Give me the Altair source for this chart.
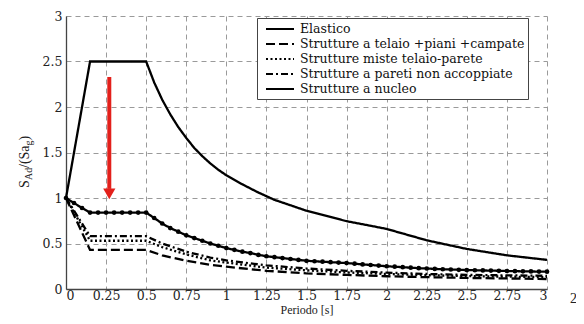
import altair as alt
import pandas as pd

FONT = "Liberation Serif"
FONT_W = "DejaVu Serif"

series_names = [
    "Elastico",
    "Strutture a telaio +piani +campate",
    "Strutture miste telaio-parete",
    "Strutture a pareti non accoppiate",
    "Strutture a nucleo",
]

# Elastic spectrum
T_el = [0, 0.15, 0.5, 0.55, 0.6, 0.65, 0.7, 0.75, 0.8, 0.85, 0.9, 0.95, 1.0, 1.1, 1.2, 1.3,
        1.4, 1.5, 1.75, 1.9, 2.0, 2.1, 2.25, 2.5, 2.75, 3.0]
S_el = [1.0, 2.5, 2.5, 2.27, 2.08, 1.92, 1.78, 1.66, 1.55, 1.46, 1.38, 1.31, 1.25, 1.15, 1.06, 0.98,
        0.92, 0.86, 0.745, 0.695, 0.66, 0.61, 0.535, 0.44, 0.37, 0.32]

# Reduced spectra (dashed / dotted / dash-dot)
T_red = [0, 0.15, 0.5, 0.6, 0.75, 0.9, 1.0, 1.25, 1.5, 1.75, 2.0, 2.25, 2.5, 2.75, 3.0]
S_telaio = [1.0, 0.43, 0.43, 0.37, 0.31, 0.265, 0.245, 0.2, 0.172, 0.155, 0.14, 0.13, 0.122, 0.116, 0.11]
S_miste = [1.0, 0.53, 0.53, 0.46, 0.38, 0.315, 0.29, 0.235, 0.205, 0.182, 0.165, 0.152, 0.142, 0.136, 0.13]
S_pareti = [1.0, 0.58, 0.58, 0.5, 0.41, 0.345, 0.315, 0.26, 0.225, 0.2, 0.18, 0.165, 0.155, 0.15, 0.145]

# Core structures (line with markers)
T_nuc = [0.0, 0.05, 0.1, 0.15, 0.2, 0.25, 0.3, 0.35, 0.4, 0.45, 0.5, 0.55, 0.6, 0.65,
         0.7, 0.75, 0.8, 0.85, 0.9, 0.95, 1.0, 1.05, 1.1, 1.15, 1.2, 1.25, 1.3, 1.35,
         1.4, 1.45, 1.5, 1.55, 1.6, 1.65, 1.7, 1.75, 1.8, 1.85, 1.9, 1.95, 2.0, 2.05,
         2.1, 2.15, 2.2, 2.25, 2.3, 2.35, 2.4, 2.45, 2.5, 2.55, 2.6, 2.65, 2.7, 2.75,
         2.8, 2.85, 2.9, 2.95, 3.0]
S_nuc = [1.0, 0.945, 0.89, 0.84, 0.84, 0.84, 0.84, 0.84, 0.84, 0.84, 0.84, 0.78, 0.72, 0.67,
         0.63, 0.59, 0.56, 0.53, 0.5, 0.475, 0.45, 0.43, 0.41, 0.395, 0.375, 0.36, 0.35, 0.34,
         0.33, 0.32, 0.31, 0.305, 0.3, 0.295, 0.29, 0.285, 0.278, 0.27, 0.264, 0.257, 0.25, 0.245,
         0.24, 0.234, 0.229, 0.225, 0.221, 0.217, 0.214, 0.211, 0.208, 0.206, 0.204, 0.202, 0.2, 0.198,
         0.196, 0.194, 0.193, 0.191, 0.19]

# Red arrow annotation
arrow_T = [0.27]
arrow_top = [2.33]
arrow_base = [1.1]
arrow_head = [1.045]

x_ticks = [0, 0.25, 0.5, 0.75, 1, 1.25, 1.5, 1.75, 2, 2.25, 2.5, 2.75, 3]
y_ticks = [0, 0.5, 1, 1.5, 2, 2.5, 3]

rows = []
for name, Ts, Ss in [
    (series_names[0], T_el, S_el),
    (series_names[1], T_red, S_telaio),
    (series_names[2], T_red, S_miste),
    (series_names[3], T_red, S_pareti),
    (series_names[4], T_nuc, S_nuc),
]:
    for t, s in zip(Ts, Ss):
        rows.append({"T": t, "S": s, "serie": name})
df = pd.DataFrame(rows)
df_nuc = pd.DataFrame({"T": T_nuc, "S": S_nuc})
df_arrow = pd.DataFrame({"T": arrow_T, "S": arrow_top, "S2": arrow_base, "tip": arrow_head})

x_enc = alt.X("T:Q", scale=alt.Scale(domain=[0, 3], nice=False),
              axis=alt.Axis(values=x_ticks, format=".2~f", title="Periodo [s]",
                            labelPadding=0, titleY=24.5, titleBaseline="alphabetic"))
y_enc = alt.Y("S:Q", scale=alt.Scale(domain=[0, 3], nice=False),
              axis=alt.Axis(values=y_ticks, format=".1~f", title=None, labelPadding=4))

dash_scale = alt.Scale(domain=series_names,
                       range=[[1, 0], [9, 4], [2, 2.5], [7, 3, 2, 3], [1, 0]])

lines = alt.Chart(df).mark_line(strokeWidth=2.3, color="black").encode(
    x=x_enc,
    y=y_enc,
    strokeDash=alt.StrokeDash(
        "serie:N", scale=dash_scale, sort=series_names,
        legend=alt.Legend(
            title=None, orient="none", legendX=191, legendY=2,
            symbolType="M-2,0H2", symbolSize=196, symbolStrokeWidth=2,
            symbolStrokeColor="black", symbolOffset=12, labelOffset=12,
            labelFont=FONT_W, labelFontSize=12.5, labelColor="#111", labelLimit=400,
            padding=3, rowPadding=0, strokeColor="#444", fillColor="white",
        ),
    ),
)

markers = alt.Chart(df_nuc).mark_circle(size=22, color="black", opacity=1).encode(
    x=x_enc, y=y_enc)

arrow_shaft = alt.Chart(df_arrow).mark_rule(color="#e3201b", strokeWidth=4).encode(
    x=x_enc, y=y_enc, y2="S2:Q")
arrow_tip = alt.Chart(df_arrow).mark_point(
    shape="triangle-down", filled=True, size=150, color="#e3201b", opacity=1
).encode(x=x_enc, y=alt.Y("tip:Q"))


def label(s, px, py, size, angle=270):
    return alt.Chart(alt.Data(values=[{"k": 0}])).mark_text(
        text=s, font=FONT, fontSize=size, angle=angle, align="left",
        baseline="alphabetic", color="#222"
    ).encode(x=alt.value(px), y=alt.value(py))


ytitle = [
    label("S", -37, 172, 14),
    label("Ad", -34, 164, 10),
    label("/(Sa", -37, 152, 14),
    label("g", -34, 129.5, 10),
    label(")", -37, 124.5, 14),
]
page_num = label("2", 504, 287, 14, angle=0)

chart = alt.layer(lines, markers, arrow_shaft, arrow_tip, *ytitle, page_num).properties(
    width=481, height=273, autosize="none",
    padding={"left": 58, "top": 8, "right": 29, "bottom": 27},
).configure(font=FONT).configure_view(stroke=None).configure_axis(
    grid=True, gridDash=[5, 4], gridColor="#9a9a9a", gridWidth=1,
    domainColor="#444", domainWidth=1.3, ticks=False,
    labelFont=FONT_W, labelFontSize=12.5, labelColor="#222",
    titleFont=FONT, titleFontSize=12, titleFontWeight="normal", titleColor="#222",
)

chart.save("out.html", embed_options={"renderer": "svg", "actions": False})
